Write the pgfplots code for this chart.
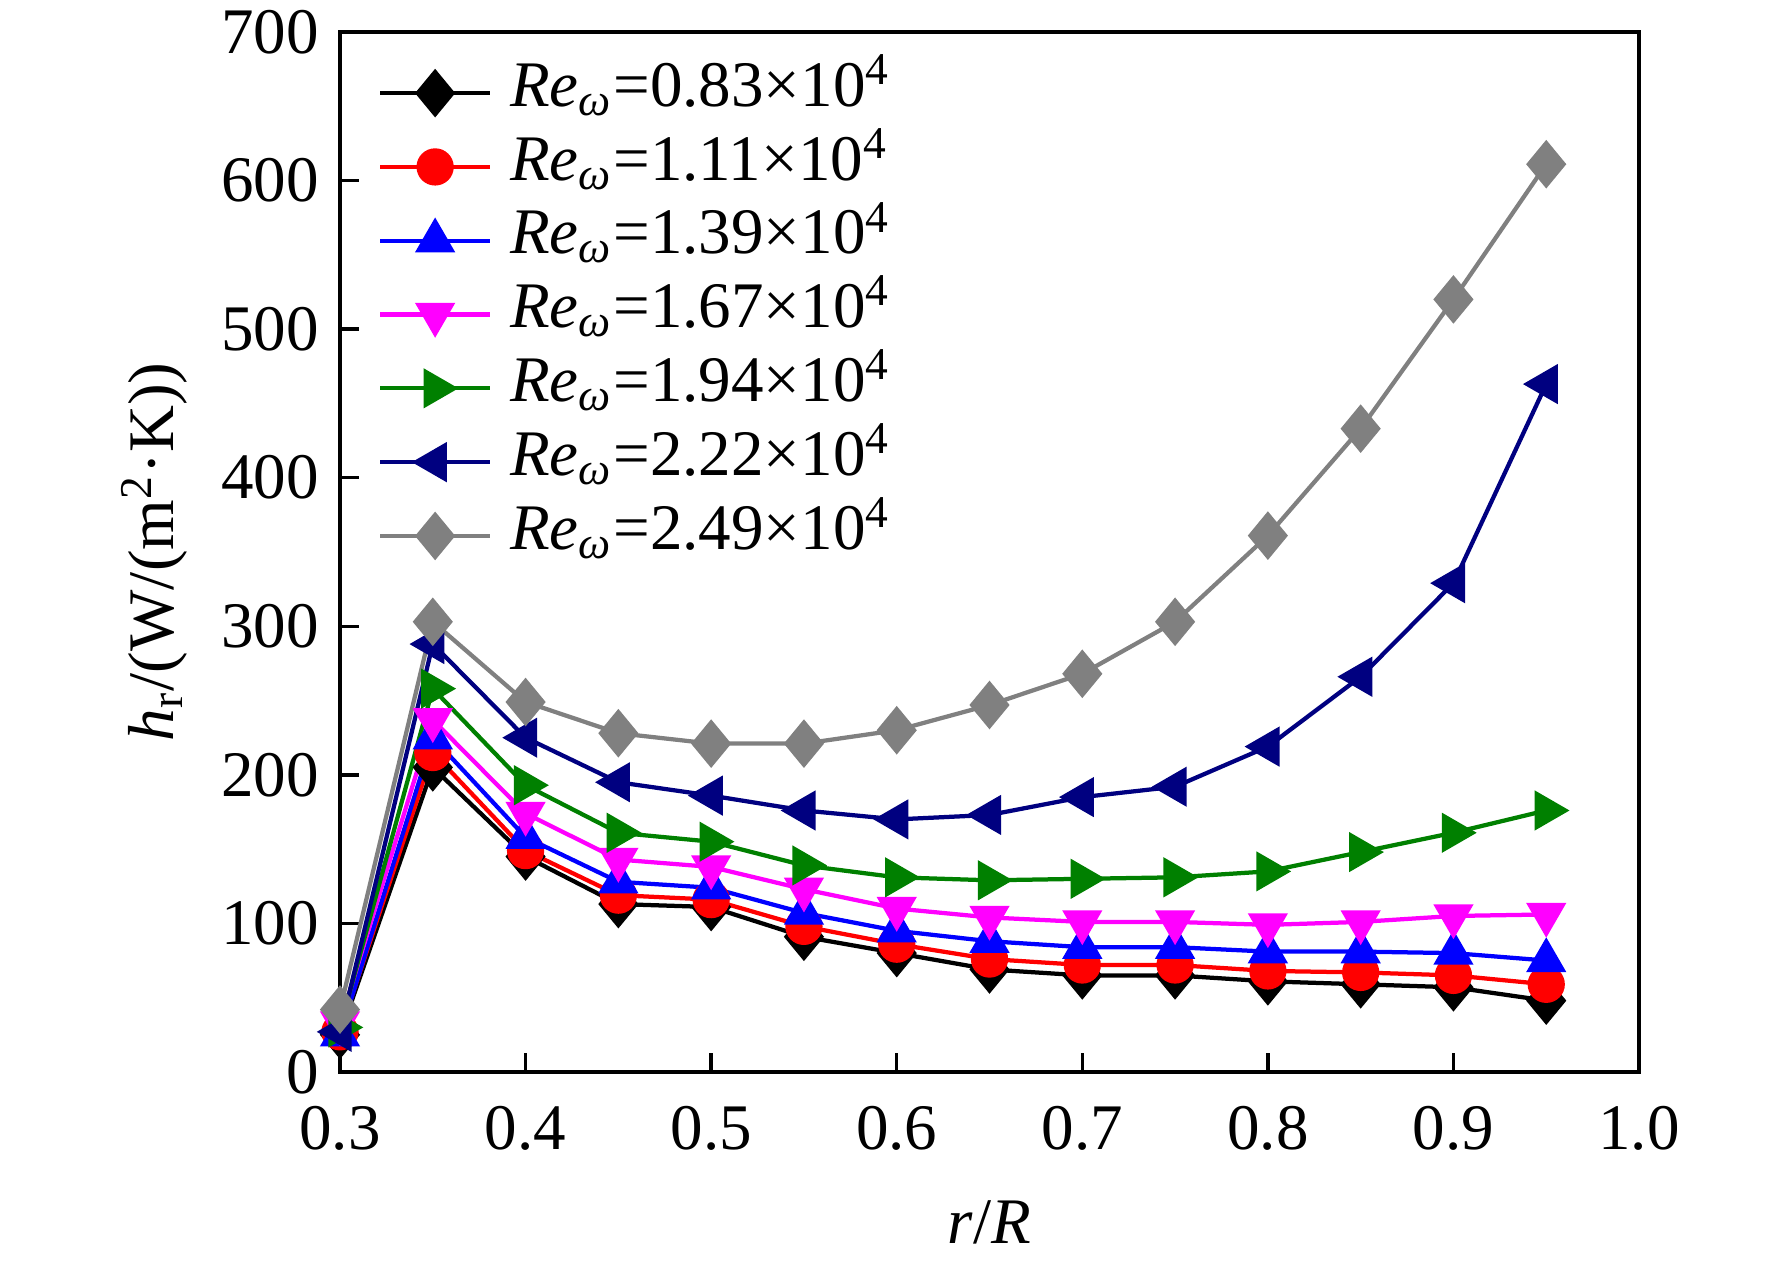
\documentclass[border=0pt]{standalone}
\usepackage{fontspec}
\setmainfont{Liberation Serif}
\usepackage{pgfplots}
\pgfplotsset{compat=1.18}
\definecolor{cnavy}{RGB}{0,0,128}
\definecolor{cgreen}{RGB}{0,128,0}
\definecolor{cgray}{RGB}{128,128,128}
\definecolor{cmag}{RGB}{255,0,255}
\definecolor{cred}{RGB}{255,0,0}
\definecolor{cblue}{RGB}{0,0,255}
\begin{document}
\begin{tikzpicture}
\begin{axis}[
  scale only axis,
  width=259.8pt, height=208pt,
  xmin=0.3, xmax=1.0, ymin=0, ymax=700,
  xtick={0.3,0.4,...,1.0},
  ytick={0,100,...,700},
  xticklabel style={yshift=-3.3pt, /pgf/number format/.cd, fixed, fixed zerofill, precision=1},
  yticklabel style={xshift=-0.7pt},
  /pgf/number format/assume math mode=true,
  tick pos=left,
  tick align=inside,
  major tick length=3.7pt,
  every tick/.style={black, line width=0.7pt},
  axis line style={line width=0.7pt},
  font=\fontsize{13}{15.6}\selectfont,
  xlabel={\textit{r}/\textit{R}},
  ylabel={\textit{h}\textsubscript{r}/(W/(m\textsuperscript{2}·K))},
  xlabel style={at={(axis description cs:0.5,-0.145)}, anchor=center},
  ylabel style={at={(axis description cs:-0.1432,0.5)}, anchor=center},
  legend cell align=left,
  legend style={draw=none, fill=none, at={(axis description cs:0,1)}, anchor=north west,
    xshift=7.4pt, yshift=-4.65pt, inner sep=0pt, row sep=0pt,
    nodes={inner sep=0pt, text height=10pt, text depth=4.76pt},
    /tikz/every odd column/.append style={column sep=3.6pt}},
  legend image code/.code={\draw[mark repeat=2, mark phase=2] plot coordinates {(0pt,0pt) (11pt,0pt) (22pt,0pt)};},
  every axis plot/.append style={line width=0.85pt},
]
\addplot[black, mark=diamond*, mark size=4.2pt, mark options={xscale=1.1}] coordinates {
(0.3,25) (0.35,205) (0.4,145) (0.45,113) (0.5,111) (0.55,91) (0.6,80) (0.65,69) (0.7,65) (0.75,65) (0.8,61) (0.85,59) (0.9,57) (0.95,48)};
\addlegendentry{\textit{Re}\textsubscript{\textit{ω}}=0.83×10\textsuperscript{4}}
\addplot[cred, mark=*, mark size=3.3pt] coordinates {
(0.3,27) (0.35,215) (0.4,149) (0.45,119) (0.5,116) (0.55,98) (0.6,86) (0.65,76) (0.7,72) (0.75,72) (0.8,68) (0.85,67) (0.9,65) (0.95,59)};
\addlegendentry{\textit{Re}\textsubscript{\textit{ω}}=1.11×10\textsuperscript{4}}
\addplot[cblue, mark=triangle*, mark size=3.8pt] coordinates {
(0.3,25) (0.35,225) (0.4,158) (0.45,128) (0.5,124) (0.55,107) (0.6,95) (0.65,88) (0.7,84) (0.75,84) (0.8,81) (0.85,81) (0.9,80) (0.95,75)};
\addlegendentry{\textit{Re}\textsubscript{\textit{ω}}=1.39×10\textsuperscript{4}}
\addplot[cmag, mark=triangle*, mark size=3.8pt, mark options={rotate=180}] coordinates {
(0.3,33) (0.35,237) (0.4,174) (0.45,143) (0.5,138) (0.55,123) (0.6,110) (0.65,104) (0.7,101) (0.75,101) (0.8,99) (0.85,101) (0.9,105) (0.95,106)};
\addlegendentry{\textit{Re}\textsubscript{\textit{ω}}=1.67×10\textsuperscript{4}}
\addplot[cgreen, mark=triangle*, mark size=3.8pt, mark options={rotate=-90}] coordinates {
(0.3,30) (0.35,258) (0.4,193) (0.45,161) (0.5,155) (0.55,139) (0.6,131) (0.65,129) (0.7,130) (0.75,131) (0.8,135) (0.85,148) (0.9,161) (0.95,176)};
\addlegendentry{\textit{Re}\textsubscript{\textit{ω}}=1.94×10\textsuperscript{4}}
\addplot[cnavy, mark=triangle*, mark size=3.8pt, mark options={rotate=90}] coordinates {
(0.3,27) (0.35,288) (0.4,225) (0.45,195) (0.5,186) (0.55,176) (0.6,170) (0.65,173) (0.7,185) (0.75,192) (0.8,219) (0.85,266) (0.9,329) (0.95,463)};
\addlegendentry{\textit{Re}\textsubscript{\textit{ω}}=2.22×10\textsuperscript{4}}
\addplot[cgray, mark=diamond*, mark size=4.2pt, mark options={xscale=1.1}] coordinates {
(0.3,42) (0.35,303) (0.4,249) (0.45,228) (0.5,221) (0.55,221) (0.6,230) (0.65,247) (0.7,268) (0.75,303) (0.8,361) (0.85,433) (0.9,520) (0.95,611)};
\addlegendentry{\textit{Re}\textsubscript{\textit{ω}}=2.49×10\textsuperscript{4}}
\end{axis}
\pgfresetboundingbox
\path (current axis.south west) ++(-68pt,-39.8pt) coordinate (bl);
\path (current axis.north east) ++(26.6pt,6.4pt) coordinate (tr);
\path[use as bounding box] (bl) rectangle (tr);
\end{tikzpicture}
\end{document}
